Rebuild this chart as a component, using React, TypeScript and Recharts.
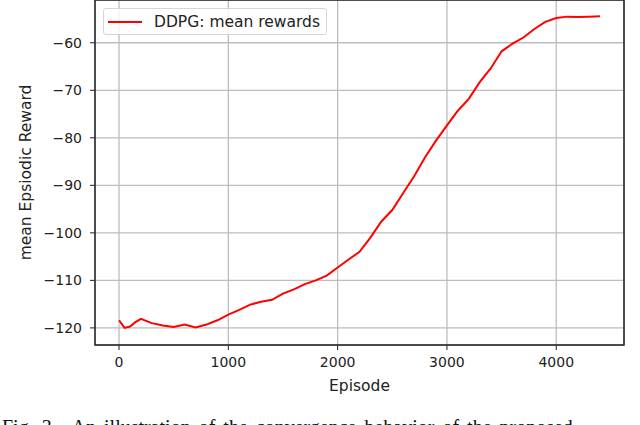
import { LineChart, Line, XAxis, YAxis, CartesianGrid, Legend, ReferenceArea, Label } from 'recharts';

const episodes = [
  0, 50, 100, 150, 200, 300, 400, 500, 600, 700, 800, 900, 1000, 1100, 1200, 1300, 1400,
  1500, 1600, 1700, 1800, 1900, 2000, 2100, 2200, 2300, 2400, 2500, 2600, 2700, 2800, 2900,
  3000, 3100, 3200, 3300, 3400, 3500, 3600, 3700, 3800, 3900, 4000, 4100, 4200, 4300, 4400,
];
const meanRewards = [
  -118.4, -120.0, -119.7, -118.8, -118.1, -119.0, -119.5, -119.8, -119.3, -119.9, -119.3, -118.4,
  -117.2, -116.2, -115.1, -114.5, -114.1, -112.8, -111.9, -110.8, -110.0, -109.0, -107.3, -105.6,
  -104.0, -101.0, -97.6, -95.2, -91.6, -88.1, -84.1, -80.6, -77.4, -74.3, -71.8, -68.3, -65.4,
  -61.8, -60.2, -58.9, -57.1, -55.6, -54.8, -54.5, -54.6, -54.5, -54.4,
];
const xTicks = [0, 1000, 2000, 3000, 4000];
const yTicks = [-120, -110, -100, -90, -80, -70, -60];
const seriesName = 'DDPG: mean rewards';

const X_DOMAIN: [number, number] = [-220, 4620];
const Y_DOMAIN: [number, number] = [-123.6, -51.0];

const data = episodes.map((ep, i) => ({ episode: ep, reward: meanRewards[i] }));

const FONT = '"DejaVu Sans", sans-serif';
const fmt = (v: number) => String(v).replace('-', '\u2212');

function LegendBox() {
  return (
    <div
      style={{
        display: 'flex',
        alignItems: 'center',
        height: 25,
        padding: '0 6px 0 4px',
        border: '1px solid #d6d6d6',
        borderRadius: 3,
        background: 'rgba(255,255,255,0.8)',
        fontFamily: FONT,
        fontSize: 15.5,
        color: '#222',
        whiteSpace: 'nowrap',
      }}
    >
      <svg width={34} height={4} style={{ marginRight: 12 }}>
        <line x1={0} y1={2} x2={34} y2={2} stroke="#ff0000" strokeWidth={2} />
      </svg>
      {seriesName}
    </div>
  );
}

export default function App() {
  return (
    <div style={{ position: 'absolute', left: 0, top: 0, width: 640, height: 425, overflow: 'hidden', background: '#fff' }}>
      <LineChart width={640} height={425} data={data} margin={{ top: 0, right: 16, bottom: 0, left: 0 }}>
        <CartesianGrid stroke="#bdbdbd" strokeWidth={1.3} />
        <XAxis
          dataKey="episode"
          type="number"
          domain={X_DOMAIN}
          ticks={xTicks}
          allowDataOverflow
          height={80}
          tickSize={5}
          tickMargin={7}
          tickFormatter={fmt}
          tick={{ fontSize: 14, fill: '#222', fontFamily: FONT }}
          tickLine={{ stroke: '#222' }}
          axisLine={false}
        >
          <Label
            value="Episode"
            position="insideBottom"
            offset={34}
            style={{ fontSize: 15.5, fill: '#222', fontFamily: FONT }}
          />
        </XAxis>
        <YAxis
          type="number"
          domain={Y_DOMAIN}
          ticks={yTicks}
          allowDataOverflow
          width={95}
          tickSize={5}
          tickMargin={8}
          tickFormatter={fmt}
          tick={{ fontSize: 14, fill: '#222', fontFamily: FONT }}
          tickLine={{ stroke: '#222' }}
          axisLine={false}
        >
          <Label
            content={({ viewBox }: any) => {
              const cy = viewBox.y + viewBox.height / 2;
              const cx = viewBox.x + 30.5;
              return (
                <text
                  x={cx}
                  y={cy}
                  transform={`rotate(-90 ${cx} ${cy})`}
                  textAnchor="middle"
                  fontSize={15.5}
                  fontFamily={FONT}
                  fill="#222"
                >
                  mean Epsiodic Reward
                </text>
              );
            }}
          />
        </YAxis>
        <ReferenceArea
          x1={X_DOMAIN[0]}
          x2={X_DOMAIN[1]}
          y1={Y_DOMAIN[0]}
          y2={Y_DOMAIN[1]}
          fill="none"
          stroke="#222"
          strokeWidth={1.5}
          ifOverflow="visible"
        />
        <Legend
          layout="horizontal"
          verticalAlign="middle"
          content={() => <LegendBox />}
          wrapperStyle={{ top: 8, left: 103, width: 'auto' }}
        />
        <Line
          type="linear"
          dataKey="reward"
          name={seriesName}
          stroke="#ff0000"
          strokeWidth={2}
          dot={false}
          isAnimationActive={false}
        />
      </LineChart>
      <div
        style={{
          position: 'absolute',
          left: 2,
          top: 416,
          fontFamily: '"Liberation Serif", serif',
          fontSize: 20,
          lineHeight: 'normal',
          whiteSpace: 'nowrap',
          wordSpacing: 3,
          color: '#111',
        }}
      >
        Fig. 3.&nbsp; An illustration of the convergence behavior of the proposed
      </div>
    </div>
  );
}
